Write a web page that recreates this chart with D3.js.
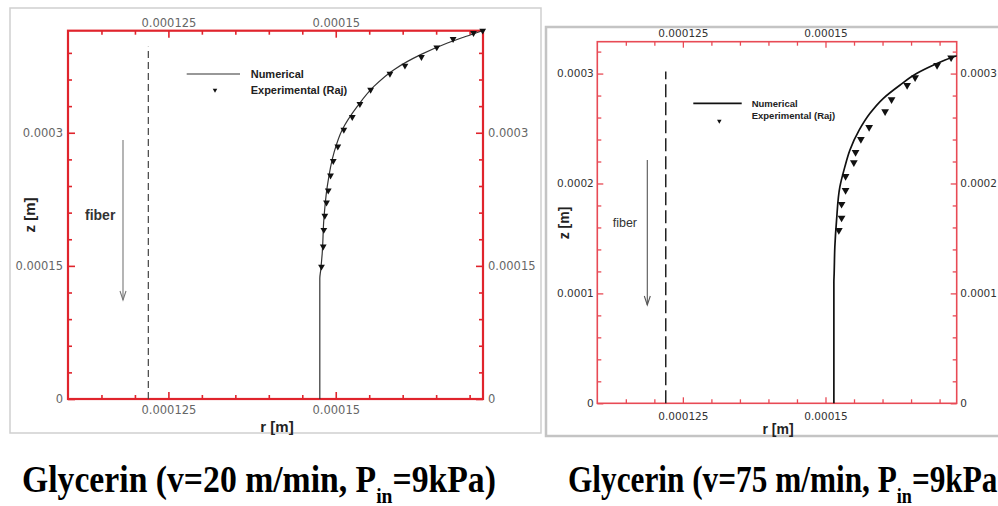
<!DOCTYPE html>
<html><head><meta charset="utf-8">
<script src="https://cdn.jsdelivr.net/npm/d3@7"></script>
<style>body{margin:0;background:#fff;overflow:hidden;} svg{display:block;}</style>
</head><body>
<svg id="c" width="998" height="506"></svg>
<script>
// ---------- data ----------
const rTickValues = [0.000125, 0.00015];
const rTickLabels = ["0.000125", "0.00015"];
const zTickValues1 = [0, 0.00015, 0.0003];
const zTickLabels1 = ["0", "0.00015", "0.0003"];
const zTickValues2 = [0, 0.0001, 0.0002, 0.0003];
const zTickLabels2 = ["0", "0.0001", "0.0002", "0.0003"];
const rDomain1 = [0.00011, 0.000172];
const zDomain1 = [0, 0.000415];
const rDomain2 = [0.00011, 0.000173];
const zDomain2 = [0, 0.000329];
const fiberR = 0.000122;
const fiberTop1 = 0.000397;
const fiberTop2 = 0.000302;

// Panel 1 (v = 20 m/min)
const numR1 = [1.4762e-4, 1.4762e-4, 1.4775e-4, 1.4798e-4, 1.4822e-4, 1.4873e-4, 1.4972e-4, 1.5097e-4, 1.5322e-4, 1.5570e-4, 1.5870e-4, 1.6269e-4, 1.6669e-4, 1.7018e-4, 1.7193e-4];
const numZ1 = [0, 1.36e-4, 1.45e-4, 1.643e-4, 2.019e-4, 2.394e-4, 2.771e-4, 3.034e-4, 3.297e-4, 3.522e-4, 3.711e-4, 3.880e-4, 4.012e-4, 4.105e-4, 4.150e-4];
const expR1 = [1.4787e-4, 1.4813e-4, 1.4822e-4, 1.4837e-4, 1.4862e-4, 1.4888e-4, 1.4922e-4, 1.4963e-4, 1.5031e-4, 1.5121e-4, 1.5247e-4, 1.5361e-4, 1.5521e-4, 1.5810e-4, 1.6034e-4, 1.6280e-4, 1.6509e-4, 1.6753e-4, 1.7058e-4, 1.7195e-4];
const expZ1 = [1.492e-4, 1.718e-4, 1.906e-4, 2.064e-4, 2.214e-4, 2.349e-4, 2.518e-4, 2.681e-4, 2.845e-4, 3.034e-4, 3.177e-4, 3.324e-4, 3.485e-4, 3.665e-4, 3.756e-4, 3.854e-4, 3.962e-4, 4.057e-4, 4.124e-4, 4.150e-4];

// Panel 2 (v = 75 m/min)
const numR2 = [1.5147e-4, 1.5147e-4, 1.5152e-4, 1.5164e-4, 1.5194e-4, 1.5252e-4, 1.5339e-4, 1.5427e-4, 1.5590e-4, 1.5777e-4, 1.6010e-4, 1.6303e-4, 1.6596e-4, 1.6886e-4, 1.7237e-4, 1.7300e-4];
const numZ2 = [0, 1.10e-4, 1.182e-4, 1.424e-4, 1.666e-4, 1.969e-4, 2.151e-4, 2.303e-4, 2.485e-4, 2.636e-4, 2.773e-4, 2.894e-4, 3.000e-4, 3.075e-4, 3.151e-4, 3.162e-4];
const expR2 = [1.5234e-4, 1.5282e-4, 1.5282e-4, 1.5352e-4, 1.5352e-4, 1.5497e-4, 1.5527e-4, 1.5620e-4, 1.5765e-4, 1.6045e-4, 1.6158e-4, 1.6431e-4, 1.6571e-4, 1.6956e-4, 1.7202e-4];
const expZ2 = [1.575e-4, 1.687e-4, 1.812e-4, 1.939e-4, 2.066e-4, 2.191e-4, 2.285e-4, 2.403e-4, 2.512e-4, 2.655e-4, 2.764e-4, 2.894e-4, 2.964e-4, 3.075e-4, 3.145e-4];

const legendLabels = ["Numerical", "Experimental (Raj)"];
const axisTitles = ["r [m]", "z [m]"];
const fiberLabel = "fiber";
const captionMain = ["Glycerin (v=20 m/min, P", "Glycerin (v=75 m/min, P"];
const captionSub = "in";
const captionTail = "=9kPa)";

// ---------- drawing ----------
const svg = d3.select("#c");
svg.append("rect").attr("width", 998).attr("height", 506).attr("fill", "#fff");

function panel(c) {
  const g = svg.append("g");
  g.append("rect").attr("x", c.bx).attr("y", c.by).attr("width", c.bw).attr("height", c.bh)
    .attr("fill", "#fff").attr("stroke", c.borderColor).attr("stroke-width", c.borderWidth);

  const x = d3.scaleLinear().domain(c.rDomain).range([c.x0, c.x1]);
  const y = d3.scaleLinear().domain(c.zDomain).range([c.y1, c.y0]);

  const rMinor = d3.range(Math.ceil(c.rDomain[0] / 5e-6 + 1e-6), Math.floor(c.rDomain[1] / 5e-6 + 1e-6) + 1)
    .map(k => k * 5e-6).filter(v => !rTickValues.some(t => Math.abs(t - v) < 1e-9));
  const zMinor = d3.range(1, Math.floor(c.zDomain[1] / c.zMinorStep + 1e-6) + 1)
    .map(k => k * c.zMinorStep).filter(v => !c.zTicks.some(t => Math.abs(t - v) < 1e-9));

  const styleAxis = (sel) => {
    sel.select(".domain").remove();
    sel.selectAll(".tick line").attr("stroke", c.red).attr("stroke-width", c.tickWidth);
    sel.selectAll(".tick text").attr("fill", c.labelColor).attr("font-family", "'DejaVu Sans', sans-serif")
      .attr("font-size", c.labelSize);
  };
  const rFmt = v => rTickLabels[rTickValues.indexOf(v)];
  const zFmt = v => c.zLabels[c.zTicks.indexOf(v)];

  // minor ticks
  g.append("g").attr("transform", `translate(0,${c.y1})`).call(d3.axisBottom(x).tickValues(rMinor).tickSize(-c.minorLen).tickFormat("")).call(styleAxis);
  g.append("g").attr("transform", `translate(0,${c.y0})`).call(d3.axisTop(x).tickValues(rMinor).tickSize(-c.minorLen).tickFormat("")).call(styleAxis);
  g.append("g").attr("transform", `translate(${c.x0},0)`).call(d3.axisLeft(y).tickValues(zMinor).tickSize(-c.minorLen).tickFormat("")).call(styleAxis);
  g.append("g").attr("transform", `translate(${c.x1},0)`).call(d3.axisRight(y).tickValues(zMinor).tickSize(-c.minorLen).tickFormat("")).call(styleAxis);
  // major ticks + labels
  g.append("g").attr("transform", `translate(0,${c.y1})`).call(d3.axisBottom(x).tickValues(rTickValues).tickSize(-c.majorLen).tickPadding(c.padBottom).tickFormat(rFmt)).call(styleAxis);
  g.append("g").attr("transform", `translate(0,${c.y0})`).call(d3.axisTop(x).tickValues(rTickValues).tickSize(-c.majorLen).tickPadding(c.padTop).tickFormat(rFmt)).call(styleAxis);
  g.append("g").attr("transform", `translate(${c.x0},0)`).call(d3.axisLeft(y).tickValues(c.zTicks).tickSize(-c.majorLen).tickPadding(c.padSide).tickFormat(zFmt)).call(styleAxis);
  g.append("g").attr("transform", `translate(${c.x1},0)`).call(d3.axisRight(y).tickValues(c.zTicks).tickSize(-c.majorLen).tickPadding(c.padSide).tickFormat(zFmt)).call(styleAxis);

  // frame
  g.append("rect").attr("x", c.x0).attr("y", c.y0).attr("width", c.x1 - c.x0).attr("height", c.y1 - c.y0)
    .attr("fill", "none").attr("stroke", c.red).attr("stroke-width", c.frameWidth);

  // fiber boundary (dashed)
  g.append("line").attr("x1", x(fiberR)).attr("x2", x(fiberR)).attr("y1", y(0)).attr("y2", y(c.fiberTop))
    .attr("stroke", c.dashColor).attr("stroke-width", c.dashWidth).attr("stroke-dasharray", c.dash);

  // numerical line
  const pts = c.numR.map((r, i) => [r, c.numZ[i]]);
  g.append("path").datum(pts)
    .attr("d", d3.line().x(d => x(d[0])).y(d => y(d[1])).curve(d3.curveMonotoneY))
    .attr("fill", "none").attr("stroke", c.lineColor).attr("stroke-width", c.lineWidth);

  // experimental markers
  const tri = d3.symbol().type(d3.symbolTriangle).size(c.markerSize);
  g.selectAll("path.m").data(c.expR.map((r, i) => [r, c.expZ[i]])).join("path").attr("class", "m")
    .attr("d", tri).attr("transform", d => `translate(${x(d[0])},${y(d[1])}) rotate(180)`)
    .attr("fill", "#111");

  // legend
  g.append("line").attr("x1", c.legLine[0]).attr("x2", c.legLine[1]).attr("y1", c.legLine[2]).attr("y2", c.legLine[2])
    .attr("stroke", c.lineColor).attr("stroke-width", c.lineWidth);
  g.append("path").attr("d", d3.symbol().type(d3.symbolTriangle).size(c.legMarkerSize))
    .attr("transform", `translate(${c.legMarker[0]},${c.legMarker[1]}) rotate(180)`).attr("fill", "#111");
  legendLabels.forEach((t, i) => {
    g.append("text").attr("x", c.legText[0]).attr("y", c.legText[1] + i * c.legText[2])
      .attr("font-family", "'Liberation Sans', Arial, sans-serif").attr("font-weight", "bold")
      .attr("font-size", c.legSize).attr("fill", "#222").text(t);
  });

  // fiber arrow + label
  g.append("line").attr("x1", c.arrow[0]).attr("x2", c.arrow[0]).attr("y1", c.arrow[1]).attr("y2", c.arrow[2])
    .attr("stroke", c.arrowColor).attr("stroke-width", 1.1);
  g.append("path").attr("d", `M${c.arrow[0] - 3},${c.arrow[2] - 9}L${c.arrow[0]},${c.arrow[2]}L${c.arrow[0] + 3},${c.arrow[2] - 9}`)
    .attr("fill", "none").attr("stroke", c.arrowColor).attr("stroke-width", 1.1);
  g.append("text").attr("x", c.fiberPos[0]).attr("y", c.fiberPos[1]).attr("font-family", "'Liberation Sans', Arial, sans-serif")
    .attr("font-weight", c.fiberWeight).attr("font-size", c.fiberSize).attr("fill", "#333").text(fiberLabel);

  // axis titles
  g.append("text").attr("x", c.rTitle[0]).attr("y", c.rTitle[1]).attr("text-anchor", "middle")
    .attr("font-family", "'Liberation Sans', Arial, sans-serif").attr("font-weight", "bold").attr("font-size", c.titleSize)
    .attr("fill", "#222").text(axisTitles[0]);
  g.append("text").attr("transform", `translate(${c.zTitle[0]},${c.zTitle[1]}) rotate(-90)`).attr("text-anchor", "middle")
    .attr("font-family", "'Liberation Sans', Arial, sans-serif").attr("font-weight", "bold").attr("font-size", c.titleSize)
    .attr("fill", "#222").text(axisTitles[1]);
}

panel({
  bx: 10, by: 8, bw: 531, bh: 425, borderColor: "#cfcfcf", borderWidth: 1.5,
  x0: 68, x1: 483, y0: 30.7, y1: 399,
  rDomain: rDomain1, zDomain: zDomain1, zTicks: zTickValues1, zLabels: zTickLabels1, zMinorStep: 0.00003,
  red: "#e0242c", frameWidth: 2.2, tickWidth: 1.6, majorLen: 7, minorLen: 4,
  labelColor: "#666", labelSize: 11.5, padBottom: 7, padTop: 4, padSide: 5,
  fiberTop: fiberTop1, dashColor: "#444", dashWidth: 1.2, dash: "7,4",
  numR: numR1, numZ: numZ1, expR: expR1, expZ: expZ1, lineColor: "#333", lineWidth: 1.2, markerSize: 20,
  legLine: [186.7, 240, 74], legMarker: [215, 90], legMarkerSize: 9, legText: [250.7, 78, 16], legSize: 11,
  arrow: [123, 140, 300], arrowColor: "#777", fiberPos: [85, 220], fiberWeight: "bold", fiberSize: 14,
  rTitle: [277, 432], zTitle: [35, 215], titleSize: 15
});

panel({
  bx: 546, by: 27, bw: 460, bh: 409, borderColor: "#c4c4c4", borderWidth: 2.5,
  x0: 597.3, x1: 956.7, y0: 41.7, y1: 403.3,
  rDomain: rDomain2, zDomain: zDomain2, zTicks: zTickValues2, zLabels: zTickLabels2, zMinorStep: 0.00002,
  red: "#e84a55", frameWidth: 1.6, tickWidth: 1.3, majorLen: 6, minorLen: 4,
  labelColor: "#333", labelSize: 10.5, padBottom: 9.5, padTop: 5, padSide: 3.5,
  fiberTop: fiberTop2, dashColor: "#222", dashWidth: 1.5, dash: "13,5",
  numR: numR2, numZ: numZ2, expR: expR2, expZ: expZ2, lineColor: "#111", lineWidth: 1.7, markerSize: 26,
  legLine: [693.3, 741.7, 103.3], legMarker: [719.3, 121], legMarkerSize: 9, legText: [751.7, 106.5, 12.5], legSize: 9.5,
  arrow: [647.3, 160, 305], arrowColor: "#555", fiberPos: [612.7, 227], fiberWeight: "normal", fiberSize: 12.5,
  rTitle: [778, 434], zTitle: [569, 223], titleSize: 14
});

// captions
function caption(x, base, main, width) {
  const t = svg.append("text")
    .attr("font-family", "'Liberation Serif','Times New Roman',serif").attr("font-weight", "bold")
    .attr("font-size", 38).attr("fill", "#000");
  t.append("tspan").text(main);
  t.append("tspan").attr("font-size", 22).attr("dy", 11).text(captionSub);
  t.append("tspan").attr("dy", -11).text(captionTail);
  const s = width / t.node().getComputedTextLength();
  t.attr("transform", `translate(${x},${base}) scale(${s},1)`);
  return t;
}
caption(22, 492, captionMain[0], 474);
caption(568, 492, captionMain[1], 440);
</script>
</body></html>
